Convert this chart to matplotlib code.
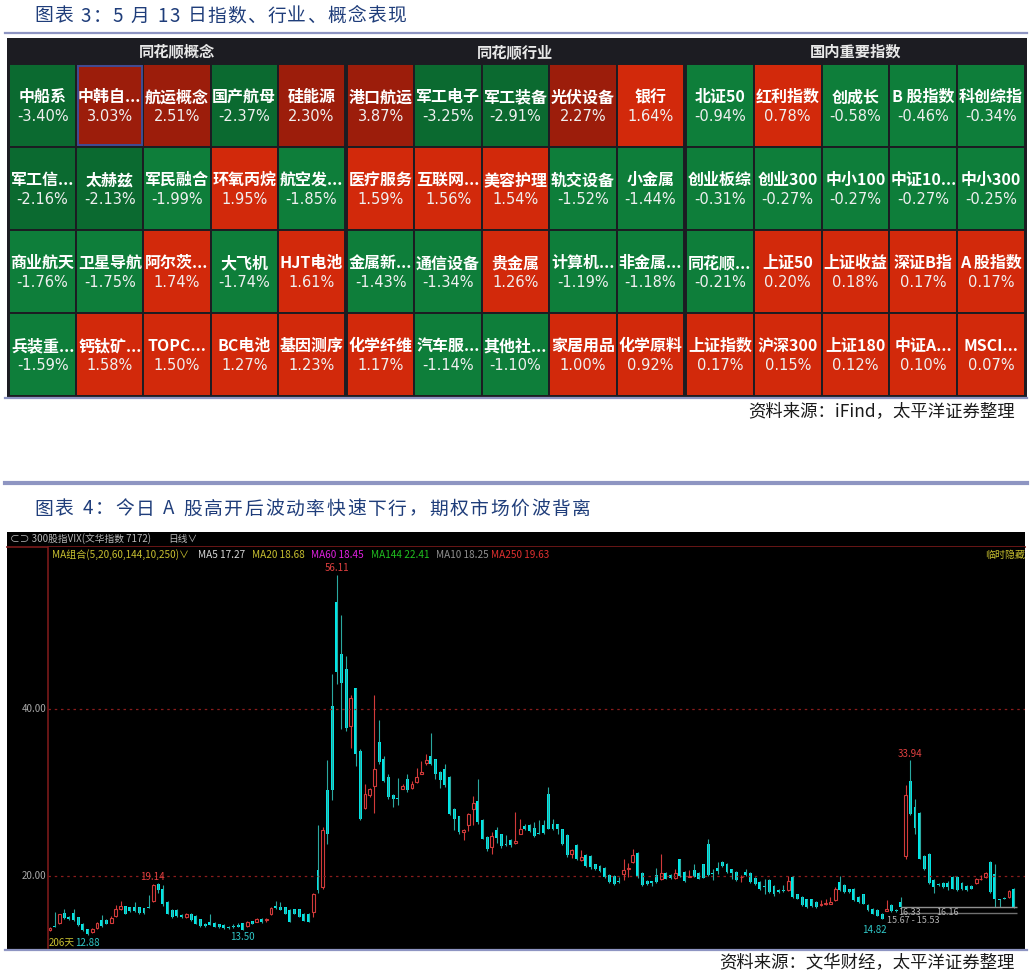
import matplotlib
matplotlib.use("Agg")
import matplotlib.pyplot as plt
from matplotlib.patches import Rectangle

plt.rcParams['font.family'] = ['Noto Sans CJK SC', 'DejaVu Sans']

# ---------------- data: heatmap ----------------
concept_names = ["中船系", "中韩自...", "航运概念", "国产航母", "硅能源",
                 "军工信...", "太赫兹", "军民融合", "环氧丙烷", "航空发...",
                 "商业航天", "卫星导航", "阿尔茨...", "大飞机", "HJT电池",
                 "兵装重...", "钙钛矿...", "TOPC...", "BC电池", "基因测序"]
concept_vals = [-3.40, 3.03, 2.51, -2.37, 2.30,
                -2.16, -2.13, -1.99, 1.95, -1.85,
                -1.76, -1.75, 1.74, -1.74, 1.61,
                -1.59, 1.58, 1.50, 1.27, 1.23]
industry_names = ["港口航运", "军工电子", "军工装备", "光伏设备", "银行",
                  "医疗服务", "互联网...", "美容护理", "轨交设备", "小金属",
                  "金属新...", "通信设备", "贵金属", "计算机...", "非金属...",
                  "化学纤维", "汽车服...", "其他社...", "家居用品", "化学原料"]
industry_vals = [3.87, -3.25, -2.91, 2.27, 1.64,
                 1.59, 1.56, 1.54, -1.52, -1.44,
                 -1.43, -1.34, 1.26, -1.19, -1.18,
                 1.17, -1.14, -1.10, 1.00, 0.92]
index_names = ["北证50", "红利指数", "创成长", "B 股指数", "科创综指",
               "创业板综", "创业300", "中小100", "中证10...", "中小300",
               "同花顺...", "上证50", "上证收益", "深证B指", "A 股指数",
               "上证指数", "沪深300", "上证180", "中证A...", "MSCI..."]
index_vals = [-0.94, 0.78, -0.58, -0.46, -0.34,
              -0.31, -0.27, -0.27, -0.27, -0.25,
              -0.21, 0.20, 0.18, 0.17, 0.17,
              0.17, 0.15, 0.12, 0.10, 0.07]
group_titles = ["同花顺概念", "同花顺行业", "国内重要指数"]

# ---------------- data: VIX candles (206 days) ----------------
opens = [13.55, 14.05, 14.4, 15.6, 15.1, 15.6, 15.05, 14.3, 13.6, 13.25,
         13.75, 14.75, 14.7, 14.4, 15.2, 16.0, 16.4, 16.3, 16.3, 16.25,
         16.15, 16.35, 17.05, 19.1, 18.5, 16.9, 15.9, 15.9, 15.3, 15.1,
         15.5, 15.2, 14.8, 14.3, 14.5, 14.4, 14.25, 14.15, 13.95, 14.0,
         14.1, 14.35, 14.0, 14.6, 14.5, 14.9, 14.75, 15.4, 16.4, 16.35,
         16.25, 15.9, 16.0, 16.0, 15.5, 15.5, 15.7, 20.7, 18.7, 30.3,
         40.4, 52.9, 46.6, 44.85, 38.0, 42.5, 35.0, 28.2, 29.7, 30.8,
         36.1, 34.0, 31.85, 29.7, 29.25, 30.5, 31.6, 30.6, 31.3, 32.25,
         33.6, 34.35, 34.0, 32.45, 32.85, 31.85, 28.1, 27.15, 25.3, 26.15,
         28.1, 29.05, 26.75, 24.7, 23.5, 25.55, 25.0, 23.9, 24.3, 24.0,
         25.1, 26.05, 26.1, 25.8, 25.2, 26.1, 29.8, 26.3, 26.2, 25.6,
         24.9, 22.6, 23.7, 21.9, 22.5, 22.4, 21.4, 21.25, 21.0, 20.1,
         20.0, 19.35, 20.3, 20.9, 21.7, 22.8, 20.4, 19.4, 19.4, 20.1,
         19.7, 20.4, 20.1, 19.8, 22.0, 20.5, 19.9, 20.7, 20.4, 21.4,
         23.9, 20.4, 21.0, 21.7, 21.5, 20.8, 20.5, 19.85, 20.5, 20.4,
         19.8, 19.3, 18.8, 19.5, 18.8, 18.3, 18.3, 18.3, 19.9, 17.85,
         17.5, 17.2, 17.2, 16.9, 16.5, 16.6, 16.7, 17.1, 19.3, 18.9,
         18.4, 18.5, 17.5, 17.85, 16.5, 16.1, 15.9, 15.5, 15.85, 16.5,
         15.9, 16.9, 22.4, 31.4, 28.3, 27.6, 22.4, 22.7, 19.5, 19.1,
         19.2, 19.2, 19.9, 19.9, 19.2, 18.8, 18.8, 19.2, 19.6, 19.9,
         21.7, 20.3, 17.25, 17.4, 17.5, 18.5]
closes = [13.75, 13.95, 15.4, 14.95, 14.8, 14.7, 14.1, 13.5, 13.05, 13.7,
          14.4, 14.0, 14.25, 14.95, 16.0, 16.4, 15.5, 15.8, 15.8, 15.55,
          15.55, 16.2, 18.9, 18.3, 16.6, 15.5, 15.1, 15.2, 15.05, 15.4,
          14.7, 14.3, 14.0, 14.0, 14.15, 13.9, 13.85, 13.75, 13.75, 13.85,
          13.95, 13.5, 14.5, 14.25, 14.9, 14.45, 14.9, 16.2, 16.15, 15.95,
          15.5, 14.5, 15.5, 15.1, 14.65, 14.55, 17.85, 18.3, 25.5, 25.1,
          30.3, 44.45, 43.2, 37.8, 41.4, 34.6, 26.9, 29.9, 30.5, 32.8,
          33.7, 31.45, 29.5, 29.3, 29.2, 30.85, 30.3, 31.0, 31.9, 32.45,
          33.9, 33.5, 32.25, 31.5, 30.9, 27.4, 26.9, 25.3, 25.55, 27.45,
          28.8, 26.5, 24.5, 23.2, 24.8, 24.6, 23.6, 23.7, 23.7, 24.2,
          25.7, 25.65, 25.4, 24.8, 25.05, 25.2, 25.7, 25.6, 25.7, 23.8,
          22.5, 23.1, 22.0, 22.3, 21.2, 21.1, 20.8, 20.65, 19.85, 19.3,
          19.0, 19.25, 20.7, 21.0, 22.5, 19.9, 18.9, 19.0, 19.2, 19.3,
          20.4, 19.7, 19.8, 20.4, 20.0, 19.4, 20.0, 19.9, 19.7, 19.8,
          20.1, 20.3, 20.6, 21.2, 20.5, 20.4, 19.5, 19.95, 20.1, 19.3,
          19.0, 18.4, 18.7, 18.1, 17.9, 18.05, 18.2, 19.4, 17.5, 17.3,
          16.5, 16.3, 16.4, 16.25, 16.6, 16.8, 16.9, 18.5, 18.3, 18.1,
          18.1, 17.1, 16.9, 16.7, 15.9, 15.5, 15.25, 14.9, 16.1, 15.8,
          15.8, 16.33, 29.7, 27.5, 25.8, 22.1, 20.8, 19.2, 18.7, 18.9,
          18.7, 18.7, 18.5, 18.3, 18.5, 18.3, 18.5, 19.7, 19.7, 20.4,
          18.1, 17.3, 17.15, 17.3, 18.2, 16.3]
highs = [13.85, 15.65, 15.5, 16.05, 15.2, 16.1, 15.1, 14.4, 13.7, 13.8,
         14.5, 15.35, 14.8, 15.2, 16.5, 17.0, 16.45, 16.35, 16.9, 16.3,
         16.2, 17.7, 19.0, 19.14, 18.9, 17.0, 16.0, 16.0, 15.4, 15.55,
         15.6, 15.3, 14.85, 14.35, 15.4, 14.45, 14.3, 14.2, 14.0, 14.25,
         14.35, 14.4, 14.6, 14.65, 15.0, 14.95, 14.95, 16.25, 17.0, 16.95,
         16.3, 16.0, 16.1, 16.05, 15.55, 15.55, 17.95, 26.1, 25.9, 33.9,
         44.2, 56.11, 51.3, 46.4, 41.7, 42.6, 35.2, 31.1, 30.6, 41.7,
         38.7, 34.4, 32.2, 29.8, 31.8, 31.1, 32.2, 31.4, 33.0, 33.8,
         34.6, 37.1, 34.1, 32.6, 33.5, 32.0, 28.2, 27.2, 25.6, 27.6,
         29.6, 31.7, 26.8, 24.8, 25.3, 25.9, 25.1, 24.9, 24.4, 27.7,
         26.9, 26.2, 26.2, 26.5, 26.7, 26.7, 30.7, 26.8, 26.3, 25.7,
         25.0, 23.2, 23.8, 23.1, 22.6, 22.5, 21.5, 21.3, 21.1, 20.2,
         20.1, 19.9, 22.1, 21.6, 23.2, 22.9, 20.5, 19.5, 19.45, 21.0,
         22.6, 20.5, 20.2, 20.9, 22.1, 20.6, 20.7, 21.4, 20.5, 21.5,
         24.5, 20.9, 21.7, 21.8, 21.6, 20.9, 20.6, 20.1, 20.9, 20.5,
         19.9, 19.4, 19.6, 19.6, 18.9, 18.4, 18.9, 20.0, 20.0, 17.9,
         17.6, 17.3, 17.3, 17.0, 17.1, 17.2, 17.5, 18.7, 20.0, 19.0,
         18.5, 18.6, 17.6, 17.9, 16.6, 16.2, 16.0, 15.6, 17.1, 16.6,
         16.0, 17.5, 30.9, 33.94, 29.2, 27.7, 22.5, 22.8, 19.6, 19.2,
         19.3, 19.4, 20.0, 20.0, 19.3, 18.9, 18.9, 19.8, 20.1, 20.5,
         21.8, 21.4, 17.3, 17.5, 18.3, 18.6]
lows = [13.45, 13.9, 14.3, 14.9, 14.75, 14.6, 14.0, 13.45, 12.88, 13.2,
        13.7, 13.95, 14.2, 14.35, 15.1, 15.95, 15.45, 15.75, 15.75, 15.5,
        15.5, 16.15, 16.9, 18.0, 16.4, 15.4, 15.0, 15.1, 14.95, 15.0,
        14.65, 14.2, 13.95, 13.95, 14.1, 13.85, 13.8, 13.7, 13.7, 13.8,
        13.9, 13.5, 13.95, 14.2, 14.45, 14.4, 14.5, 15.3, 16.1, 15.9,
        15.45, 14.45, 15.45, 15.05, 14.6, 14.5, 15.15, 18.0, 18.5, 23.9,
        29.1, 43.0, 37.6, 37.4, 35.4, 33.2, 26.7, 28.0, 29.5, 27.6,
        33.5, 31.3, 29.3, 28.3, 28.5, 30.4, 30.1, 30.5, 31.2, 32.2,
        33.3, 33.3, 31.6, 30.6, 30.7, 27.3, 25.5, 25.0, 24.3, 25.4,
        26.1, 26.3, 24.4, 23.0, 22.7, 24.0, 23.4, 23.6, 23.5, 23.9,
        25.0, 25.5, 25.3, 24.7, 25.0, 25.1, 25.6, 25.5, 25.1, 23.7,
        22.3, 22.2, 21.9, 21.8, 21.1, 20.8, 20.7, 20.5, 19.8, 19.2,
        18.9, 19.2, 19.5, 19.9, 21.6, 19.8, 18.8, 18.9, 18.8, 19.2,
        19.5, 19.6, 19.6, 19.7, 19.9, 19.3, 19.85, 19.85, 19.6, 19.75,
        20.0, 19.5, 20.2, 21.1, 20.4, 19.6, 19.4, 19.3, 20.0, 19.2,
        18.9, 18.3, 17.9, 18.0, 17.6, 18.0, 18.1, 18.2, 17.4, 17.2,
        16.4, 16.2, 16.3, 16.2, 16.4, 16.5, 16.6, 17.0, 18.2, 18.0,
        18.0, 17.0, 16.8, 16.6, 15.8, 15.4, 15.2, 14.82, 15.8, 15.7,
        15.67, 16.2, 22.1, 27.3, 25.0, 22.0, 20.7, 19.1, 18.0, 18.8,
        18.6, 18.3, 18.4, 18.2, 18.3, 18.2, 18.4, 19.1, 19.5, 19.8,
        18.0, 16.3, 16.3, 17.2, 17.4, 16.16]

ma_labels = ["MA组合(5,20,60,144,10,250)∨", "MA5 17.27", "MA20 18.68", "MA60 18.45",
             "MA144 22.41", "MA10 18.25", "MA250 19.63"]
y_ticks = [20, 40]

# ---------------- figure ----------------
W, H = 1032, 977
fig = plt.figure(figsize=(W / 100, H / 100), dpi=100)
fig.patch.set_facecolor("white")
renderer = fig.canvas.get_renderer()

bg = fig.add_axes([0, 0, 1, 1])
bg.set_xlim(0, W)
bg.set_ylim(H, 0)
bg.axis("off")


def px_axes(x0, y0, x1, y1):
    return fig.add_axes([x0 / W, 1 - y1 / H, (x1 - x0) / W, (y1 - y0) / H])


def ftext(x, y, s, **kw):
    """figure-level text placed in pixel coordinates (drawn above all axes)"""
    return fig.text(x / W, 1 - y / H, s, **kw)


def tracked_text(x, y, s, track, **kw):
    """text with extra letter spacing, in bg pixel coordinates"""
    for ch in s:
        t = bg.text(x, y, ch, ha="left", va="center", **kw)
        if ch == " ":
            w = kw.get("fontsize", 12) * 100 / 72 * 0.3
        else:
            w = t.get_window_extent(renderer=renderer).width
        x += w + track


title_col = "#1f3d7a"
rule_col = "#8e95c2"

# titles and rules
tracked_text(34, 16, "图表 3：5 月 13 日指数、行业、概念表现", 1.2, fontsize=13.5,
             color=title_col)
bg.plot([5, 1027], [33, 33], color=rule_col, lw=1.6)
bg.add_patch(Rectangle((7, 38), 1020, 359, facecolor="#1c1c22", edgecolor="none"))
bg.plot([5, 1027], [398, 398], color=rule_col, lw=1.6)
bg.text(1015, 411, "资料来源：iFind，太平洋证券整理", fontsize=12.5, color="#1a1a1a",
        va="center", ha="right", style="italic")
bg.plot([5, 1027], [483, 483], color=rule_col, lw=3)
tracked_text(34, 509, "图表 4：今日 A 股高开后波动率快速下行，期权市场价波背离", 1.7,
             fontsize=13.5, color=title_col)
bg.plot([5, 1027], [950, 950], color=rule_col, lw=1.6)
bg.text(1015, 963, "资料来源：文华财经，太平洋证券整理", fontsize=12.5, color="#1a1a1a",
        va="center", ha="right", style="italic")

# ---------------- heatmap ----------------
DARK_RED, RED = "#9c1d0b", "#d2290b"
DARK_GREEN, GREEN = "#0b6a30", "#0e7e3a"


def cell_color(v):
    if v >= 2:
        return DARK_RED
    if v > 0:
        return RED
    if v <= -2:
        return DARK_GREEN
    return GREEN


groups = [(concept_names, concept_vals, 9, 345),
          (industry_names, industry_vals, 347, 684),
          (index_names, index_vals, 686, 1025)]
for gi, (names, vals, x0, x1) in enumerate(groups):
    bg.text((x0 + x1) / 2, 52, group_titles[gi], fontsize=11, fontweight="bold",
            color="#e8e8e8", ha="center", va="center")
    ax = px_axes(x0, 64, x1, 396)
    ax.set_xlim(0, 5)
    ax.set_ylim(4, 0)
    ax.axis("off")
    for k, (nm, v) in enumerate(zip(names, vals)):
        r, c = divmod(k, 5)
        ax.add_patch(Rectangle((c, r), 1, 1, facecolor=cell_color(v),
                               edgecolor="#1c1c22", lw=1.4))
        ax.text(c + 0.5, r + 0.40, nm, fontsize=11.5, fontweight="bold",
                color="white", ha="center", va="center")
        ax.text(c + 0.5, r + 0.63, f"{v:.2f}%", fontsize=10.5,
                color="#f0f0f0", ha="center", va="center",
                family=["DejaVu Sans"])
    if gi == 0:
        ax.add_patch(Rectangle((1.02, 0.02), 0.96, 0.96, facecolor="none",
                               edgecolor="#3f4d95", lw=1.4))

# ---------------- candlestick panel ----------------
bg.add_patch(Rectangle((7, 532), 1018, 417, facecolor="black", edgecolor="none"))
bg.plot([7, 1025], [546.5, 546.5], color="#7a1a1a", lw=1.2)
bg.text(10, 539, "⊂⊃ 300股指VIX(文华指数 7172)", fontsize=7, color="#b8b8b8",
        ha="left", va="center")
bg.text(168, 539, "日线∨", fontsize=7, color="#b8b8b8", ha="left", va="center")

cax = px_axes(48, 546.5, 1025, 948)
cax.set_facecolor("black")
for s in cax.spines.values():
    s.set_visible(False)
cax.spines["left"].set_visible(True)
cax.spines["left"].set_color("#7a1a1a")
cax.spines["left"].set_linewidth(1.2)
cax.set_xlim(-0.43, 207.4)
cax.set_ylim(11.38, 59.52)
cax.set_xticks([])
cax.set_yticks([])

for t in y_ticks:
    cax.axhline(t, color="#8a1c1c", lw=0.9, ls=(0, (2, 3)))
    cax.text(-0.002, t, f"{t:.2f}", transform=cax.get_yaxis_transform(),
             ha="right", va="center", fontsize=7, color="#a8a8a8")

UP, DOWN, DOWN_WICK = "#d23a3a", "#00e8e8", "#2aa8a0"
bw = 0.62
for i, (o, h, l, c) in enumerate(zip(opens, highs, lows, closes)):
    hh, ll = max(h, o, c), min(l, o, c)
    if c > o:
        cax.vlines(i, ll, min(o, c), color=UP, lw=0.8)
        cax.vlines(i, max(o, c), hh, color=UP, lw=0.8)
        cax.add_patch(Rectangle((i - bw / 2, o), bw, c - o, facecolor="black",
                                edgecolor=UP, lw=0.8))
    else:
        cax.vlines(i, ll, hh, color=DOWN_WICK, lw=0.8)
        body = max(o - c, 0.12)
        cax.add_patch(Rectangle((i - bw / 2, c), bw, body, facecolor=DOWN,
                                edgecolor="none"))

# range lines at the end
cax.hlines([16.33, 15.6], 181, 205.7, colors=["#909090", "#707070"], lw=1.0)

lab_red, lab_cyan, lab_gray = "#e04040", "#30c8c8", "#b4b4b4"
cax.text(61, 56.4, "56.11", color=lab_red, fontsize=7, ha="center", va="bottom")
cax.text(21.8, 19.9, "19.14", color=lab_red, fontsize=7, ha="center", va="center")
cax.text(2.4, 12.0, "206天", color="#c8c030", fontsize=7, ha="center", va="center")
cax.text(8.0, 12.0, "12.88", color=lab_cyan, fontsize=7, ha="center", va="center")
cax.text(40.9, 12.7, "13.50", color=lab_cyan, fontsize=7, ha="center", va="center")
cax.text(175.4, 13.5, "14.82", color=lab_cyan, fontsize=7, ha="center", va="center")
cax.text(183.0, 34.7, "33.94", color=lab_red, fontsize=7, ha="center", va="center")
cax.text(182.8, 15.65, "16.33", color=lab_gray, fontsize=6.5, ha="center", va="center")
cax.text(191.0, 15.65, "16.16", color=lab_gray, fontsize=6.5, ha="center", va="center")
cax.text(183.6, 14.7, "15.67 - 15.53", color=lab_gray, fontsize=6.5, ha="center",
         va="center")

# legend row (figure level so it sits above the chart axes)
ma_colors = ["#c8c030", "#d8d8d8", "#c8c030", "#e020e0", "#20c020", "#909090", "#e03030"]
ma_x = [52, 198, 252, 311, 371, 436, 491]
for lab, col, xx in zip(ma_labels, ma_colors, ma_x):
    ftext(xx, 555, lab, fontsize=7.2, color=col, ha="left", va="center")
ftext(1025, 555, "临时隐藏", fontsize=7.2, color="#c8c030", ha="right", va="center")

fig.savefig("out.png", dpi=100, facecolor="white")
